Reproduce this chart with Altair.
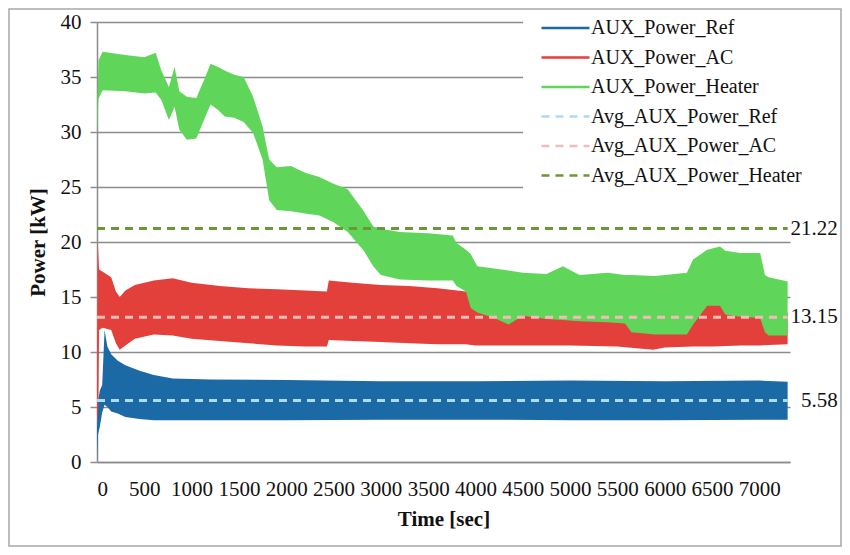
import altair as alt
import pandas as pd

# ---------------- data ----------------
SERIES = ["AUX_Power_Ref", "AUX_Power_AC", "AUX_Power_Heater",
          "Avg_AUX_Power_Ref", "Avg_AUX_Power_AC", "Avg_AUX_Power_Heater"]
COLORS = ["#1b6aa5", "#e3403b", "#5fd65a", "#acdcee", "#f2bcbc", "#6b963a"]

# AUX_Power_Ref envelope (min / max of the fast oscillation)
TIME_REF = [0, 10, 30, 55, 80, 110, 150, 220, 300, 450, 600, 800, 1200, 2000,
            3000, 4000, 5000, 6000, 7000, 7300]
REF_LO = [0.0, 2.5, 3.2, 4.5, 5.2, 5.0, 4.6, 4.4, 4.1, 3.9, 3.8, 3.8, 3.8, 3.8,
          3.85, 3.85, 3.8, 3.8, 3.85, 3.85]
REF_HI = [3.0, 5.5, 6.5, 7.0, 12.0, 10.5, 9.8, 9.2, 8.8, 8.3, 7.9, 7.6, 7.5, 7.45,
          7.35, 7.35, 7.4, 7.35, 7.4, 7.3]

# AUX_Power_AC envelope
TIME_AC = [0, 8, 14, 22, 60, 150, 200, 240, 300, 400, 600, 800, 1000, 1300, 1600,
           1900, 2200, 2430, 2450, 2700, 3000, 3300, 3600, 3900, 4000, 4500, 5000,
           5500, 5880, 6000, 6300, 6500, 6800, 7000, 7300]
AC_LO = [4.0, 4.0, 5.0, 12.0, 12.2, 12.0, 10.8, 10.2, 10.6, 11.2, 11.6, 11.5, 11.2,
         11.0, 10.8, 10.6, 10.5, 10.5, 11.1, 11.0, 10.9, 10.8, 10.7, 10.7, 10.6,
         10.6, 10.6, 10.5, 10.2, 10.4, 10.5, 10.5, 10.6, 10.6, 10.7]
AC_HI = [6.5, 20.0, 19.0, 17.5, 17.3, 16.8, 15.5, 15.0, 15.6, 16.1, 16.5, 16.7, 16.3,
         16.0, 15.8, 15.7, 15.6, 15.5, 16.5, 16.3, 16.1, 16.0, 15.8, 15.5, 15.2,
         14.8, 14.5, 14.0, 13.5, 13.5, 14.0, 14.8, 14.5, 14.2, 13.5]

# AUX_Power_Heater envelope
TIME_HEATER = [0, 15, 60, 300, 500, 620, 680, 760, 820, 870, 950, 1050, 1130, 1200,
               1280, 1350, 1450, 1550, 1650, 1750, 1820, 1900, 2050, 2200, 2350,
               2500, 2650, 2820, 2920, 3000, 3200, 3500, 3760, 3800, 3900, 3950,
               4020, 4200, 4350, 4500, 4750, 4925, 5100, 5400, 5580, 5650, 5900,
               6235, 6300, 6450, 6585, 6640, 6800, 7010, 7060, 7100, 7300]
HEATER_LO = [29.8, 33.0, 33.8, 33.7, 33.5, 33.6, 32.9, 31.1, 32.3, 30.2, 29.3, 29.4,
             31.1, 32.5, 32.0, 31.4, 31.3, 30.9, 29.9, 27.5, 23.8, 22.9, 22.8, 22.6,
             22.4, 21.8, 20.9, 19.2, 17.8, 17.0, 16.6, 16.5, 16.5, 16.0, 15.5, 14.0,
             13.6, 13.1, 12.5, 13.3, 13.0, 12.9, 12.8, 12.7, 12.6, 11.8, 11.6,
             11.6, 12.5, 14.2, 14.2, 13.4, 13.2, 13.1, 11.8, 11.5, 11.5]
HEATER_HI = [31.0, 36.5, 37.3, 37.0, 36.8, 37.2, 35.6, 34.1, 35.9, 33.7, 33.2, 33.1,
             34.7, 36.2, 35.9, 35.6, 35.2, 35.0, 33.2, 30.5, 27.5, 26.8, 26.9, 26.3,
             25.9, 25.3, 24.8, 22.8, 21.4, 21.2, 20.9, 20.8, 20.6, 19.9, 19.3, 18.9,
             17.8, 17.6, 17.4, 17.2, 17.1, 17.8, 17.0, 17.2, 17.0, 17.0, 16.9,
             17.2, 18.4, 19.3, 19.6, 19.2, 19.0, 19.0, 17.0, 16.8, 16.4]

# averages
AVG_NAMES = ["Avg_AUX_Power_Ref", "Avg_AUX_Power_AC", "Avg_AUX_Power_Heater"]
AVG_VALUES = [5.58, 13.15, 21.22]
AVG_LABELS = ["5.58", "13.15", "21.22"]

X_TICKS = list(range(0, 7001, 500))
Y_TICKS = list(range(0, 41, 5))
X_MAX = 7325
Y_MAX = 40

FONT = "Liberation Serif"
FS = 21
GRID = "#8c8c8c"

# ---------------- tables ----------------
def band(name, t, lo, hi):
    return pd.DataFrame({"series": name, "t": t, "lo": lo, "hi": hi})

bands = [band(SERIES[0], TIME_REF, REF_LO, REF_HI),
         band(SERIES[1], TIME_AC, AC_LO, AC_HI),
         band(SERIES[2], TIME_HEATER, HEATER_LO, HEATER_HI)]

t_start = min(TIME_REF[0], TIME_AC[0], TIME_HEATER[0])
t_end = max(TIME_REF[-1], TIME_AC[-1], TIME_HEATER[-1])
avg_df = pd.DataFrame({"series": AVG_NAMES, "value": AVG_VALUES, "label": AVG_LABELS,
                       "t0": t_start, "t1": t_end})

color_scale = alt.Scale(domain=SERIES, range=COLORS)
dash_scale = alt.Scale(domain=SERIES, range=[[1, 0], [1, 0], [1, 0], [8, 6], [8, 6], [8, 6]])

x_enc = alt.X("t:Q", scale=alt.Scale(domain=[0, X_MAX], nice=False),
              axis=alt.Axis(values=X_TICKS, format="d", title="Time [sec]",
                            grid=False, ticks=False, labelPadding=16,
                            labelOverlap=False, titlePadding=9))
y_axis = alt.Axis(values=Y_TICKS, title="Power [kW]", grid=True, tickSize=7,
                  labelPadding=9, titlePadding=12)


def area_layer(df, color):
    return alt.Chart(df).mark_area(opacity=1, color=color).encode(
        x=x_enc,
        y=alt.Y("lo:Q", scale=alt.Scale(domain=[0, Y_MAX], nice=False), axis=y_axis),
        y2="hi:Q",
        detail="series:N",
    )


legend = alt.Legend(orient="none", legendX=426, legendY=-10,
                    fillColor="white", padding=6,
                    symbolType="stroke", symbolSize=2304,
                    symbolStrokeWidth=2.5, symbolOffset=11,
                    clipHeight=20,
                    labelFont=FONT, labelFontSize=FS - 1,
                    labelColor="#111", labelOffset=0,
                    labelLimit=400, rowPadding=9.5)

rules = alt.Chart(avg_df).mark_rule(strokeWidth=3).encode(
    x="t0:Q",
    x2="t1:Q",
    y="value:Q",
    color=alt.Color("series:N", scale=color_scale, title=None, legend=legend),
    strokeDash=alt.StrokeDash("series:N", scale=dash_scale, title=None, legend=legend),
)

labels = alt.Chart(avg_df).mark_text(align="right", baseline="middle", dx=50,
                                     font=FONT, fontSize=FS, color="#111").encode(
    x="t1:Q", y="value:Q", text="label:N")

frame = alt.Chart(pd.DataFrame({"k": [0]})).mark_rect(
    fill="white", fillOpacity=0, stroke="#a8a8a8", strokeWidth=1.5).encode(
    x=alt.value(-88), x2=alt.value(744), y=alt.value(-13), y2=alt.value(524))

layers = [area_layer(b, c) for b, c in zip(bands, COLORS[:3])]
chart = alt.layer(*layers, rules, labels, frame).properties(
    width=693, height=440,
    autosize=alt.AutoSizeParams(type="none"),
    padding={"left": 89, "top": 14, "right": 52, "bottom": 85},
).configure_view(strokeWidth=0).configure_axis(
    labelFont=FONT, labelFontSize=FS, labelColor="#111",
    titleFont=FONT, titleFontSize=FS, titleFontWeight="bold", titleColor="#111",
    domainColor=GRID, domainWidth=1.5, gridColor=GRID, gridWidth=1.5,
    tickColor=GRID, tickWidth=1.5,
)

chart.save("out.html", embed_options={"renderer": "svg", "actions": False})
